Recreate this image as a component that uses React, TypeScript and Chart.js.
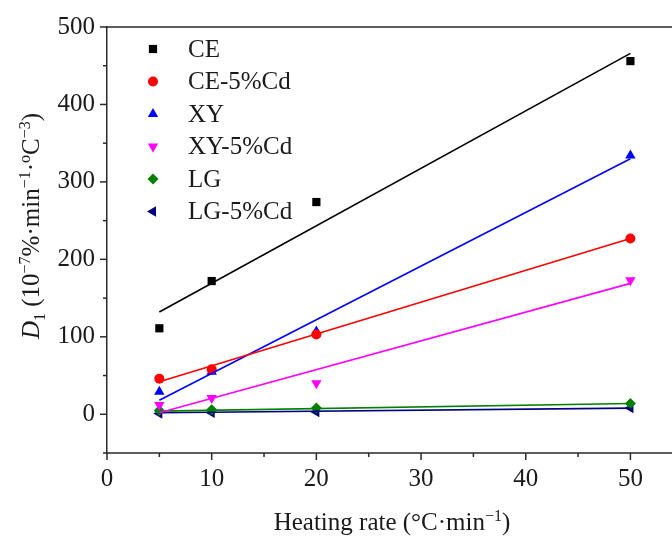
import React, { useEffect, useRef } from 'react';
import { Chart, registerables } from 'chart.js';
import { drawPoint } from 'chart.js/helpers';

Chart.register(...registerables);

// ---- data ----
const heatingRates = [5, 10, 20, 50];
const seriesNames = ['CE', 'CE-5%Cd', 'XY', 'XY-5%Cd', 'LG', 'LG-5%Cd'];
const ceValues = [111, 172, 274, 456];
const ce5Values = [46, 58, 103, 227];
const xyValues = [29, 55, 107, 334];
const xy5Values = [12, 21, 40, 173];
const lgValues = [5, 6, 8, 14];
const lg5Values = [1, 2, 3, 8];

// fitted straight lines, endpoints
const fitRates = [5, 50];
const ceFit = [132, 466];
const ce5Fit = [42, 227];
const xyFit = [18, 330];
const xy5Fit = [2, 169];
const lgFit = [4, 14];
const lg5Fit = [2, 8];

const xTickValues = [0, 10, 20, 30, 40, 50];
const yTickValues = [0, 100, 200, 300, 400, 500];

// ---- styles ----
const FONT = "'Liberation Serif', 'Times New Roman', serif";
const TEXT = '#1a1a1a';
const AXIS = '#2a2a2a';
const colors = ['#000000', '#ff0000', '#0000ff', '#ff00ff', '#008000', '#000080'];
const pointStyles = ['rect', 'circle', 'triangle', 'triangle', 'rectRot', 'triangle'];
const rotations = [0, 0, 0, 180, 0, -90];
const radii = [5.8, 5, 6, 6, 5.5, 6];

const seriesValues = [ceValues, ce5Values, xyValues, xy5Values, lgValues, lg5Values];
const fitValues = [ceFit, ce5Fit, xyFit, xy5Fit, lgFit, lg5Fit];

type Seg = { t: string; k?: 'i' | 'sub' | 'sup' };

function drawRich(ctx: CanvasRenderingContext2D, segs: Seg[], cx: number, baseY: number, size: number) {
  const small = Math.round(size * 0.64);
  const fontOf = (s: Seg) =>
    s.k === 'i' ? `italic ${size}px ${FONT}` : s.k === 'sub' || s.k === 'sup' ? `${small}px ${FONT}` : `${size}px ${FONT}`;
  let total = 0;
  const widths = segs.map((s) => {
    ctx.font = fontOf(s);
    const w = ctx.measureText(s.t).width;
    total += w;
    return w;
  });
  let x = cx - total / 2;
  ctx.textAlign = 'left';
  ctx.textBaseline = 'alphabetic';
  segs.forEach((s, i) => {
    ctx.font = fontOf(s);
    let y = baseY;
    if (s.k === 'sub') y += size * 0.22;
    if (s.k === 'sup') y -= size * 0.38;
    ctx.fillText(s.t, x, y);
    x += widths[i];
  });
}

const decorPlugin = {
  id: 'decor',
  afterDraw(chart: any) {
    const { ctx, chartArea, scales } = chart;
    const xs = scales.x;
    const ys = scales.y;
    const xLast = xTickValues[xTickValues.length - 1];
    ctx.save();
    ctx.strokeStyle = AXIS;
    ctx.lineWidth = 1.5;
    ctx.lineCap = 'butt';
    // top frame line and bottom axis line, running to the canvas edge
    ctx.beginPath();
    ctx.moveTo(chartArea.left, chartArea.top);
    ctx.lineTo(chart.width, chartArea.top);
    ctx.moveTo(chartArea.left - 0.75, chartArea.bottom);
    ctx.lineTo(chart.width, chartArea.bottom);
    ctx.stroke();
    // x ticks (major + minor)
    const xStep = xTickValues[1] - xTickValues[0];
    xTickValues.forEach((v) => {
      [v, v + xStep / 2].forEach((tv, j) => {
        if (tv > xLast) return;
        const px = xs.getPixelForValue(tv);
        const len = j === 0 ? 7 : 4;
        ctx.beginPath();
        ctx.moveTo(px, chartArea.bottom);
        ctx.lineTo(px, chartArea.bottom + len);
        ctx.stroke();
      });
    });
    // y ticks (major + minor)
    const yStep = yTickValues[1] - yTickValues[0];
    [yTickValues[0] - yStep, ...yTickValues].forEach((v) => {
      [v, v + yStep / 2].forEach((tv, j) => {
        if (tv < ys.min || tv > ys.max) return;
        const py = ys.getPixelForValue(tv);
        const len = j === 0 ? 7 : 4;
        ctx.beginPath();
        ctx.moveTo(chartArea.left - len, py);
        ctx.lineTo(chartArea.left, py);
        ctx.stroke();
      });
    });

    // legend
    seriesNames.forEach((name, i) => {
      const y = chartArea.top + 22 + i * 32.5;
      ctx.fillStyle = colors[i];
      drawPoint(ctx, { pointStyle: pointStyles[i], rotation: rotations[i], radius: radii[i], borderWidth: 0 } as any, chartArea.left + 46, y);
      ctx.fillStyle = TEXT;
      ctx.font = `25px ${FONT}`;
      ctx.textAlign = 'left';
      ctx.textBaseline = 'middle';
      ctx.fillText(name, chartArea.left + 81, y + 1);
    });

    // x title
    ctx.fillStyle = TEXT;
    drawRich(ctx, [{ t: 'Heating rate (°C·min' }, { t: '−1', k: 'sup' }, { t: ')' }], 392, 530, 25);

    // y title
    ctx.save();
    ctx.translate(39, 226);
    ctx.rotate(-Math.PI / 2);
    drawRich(
      ctx,
      [
        { t: 'D', k: 'i' },
        { t: '1', k: 'sub' },
        { t: ' (10' },
        { t: '−7', k: 'sup' },
        { t: '%·min' },
        { t: '−1', k: 'sup' },
        { t: '·' },
        { t: 'o', k: 'sup' },
        { t: 'C' },
        { t: '−3', k: 'sup' },
        { t: ')' },
      ],
      0,
      0,
      25
    );
    ctx.restore();
    ctx.restore();
  },
};

export default function App() {
  const canvasRef = useRef<HTMLCanvasElement | null>(null);

  useEffect(() => {
    if (!canvasRef.current) return;
    const datasets: any[] = [];
    seriesNames.forEach((name, i) => {
      datasets.push({
        label: name,
        data: heatingRates.map((x, k) => ({ x, y: seriesValues[i][k] })),
        showLine: false,
        pointStyle: pointStyles[i],
        rotation: rotations[i],
        pointRadius: radii[i],
        pointBorderWidth: 0,
        backgroundColor: colors[i],
        borderColor: colors[i],
        order: 1,
      });
    });
    seriesNames.forEach((name, i) => {
      datasets.push({
        label: name + ' fit',
        data: fitRates.map((x, k) => ({ x, y: fitValues[i][k] })),
        showLine: true,
        pointRadius: 0,
        borderWidth: 1.6,
        borderColor: colors[i],
        backgroundColor: colors[i],
        fill: false,
        order: 0,
      });
    });

    const chart = new Chart(canvasRef.current, {
      type: 'scatter',
      data: { datasets },
      options: {
        animation: false,
        responsive: false,
        devicePixelRatio: 1,
        layout: { padding: { left: 0, top: 25, right: 0, bottom: 0 } },
        plugins: { legend: { display: false }, tooltip: { enabled: false }, title: { display: false } },
        scales: {
          x: {
            type: 'linear',
            min: 0,
            max: 53.4,
            grid: { display: false, drawTicks: false },
            border: { display: false },
            ticks: {
              stepSize: 10,
              includeBounds: false,
              padding: 11,
              maxRotation: 0,
              color: TEXT,
              font: { family: FONT, size: 25 },
              callback: (v: any) => (xTickValues.includes(v) ? String(v) : ''),
            },
            afterFit: (s: any) => {
              s.height = 84;
            },
          },
          y: {
            type: 'linear',
            min: -50,
            max: 500,
            grid: { display: false, drawTicks: false },
            border: { display: true, color: AXIS, width: 1.5 },
            ticks: {
              stepSize: 100,
              includeBounds: false,
              padding: 12,
              color: TEXT,
              font: { family: FONT, size: 25 },
              callback: (v: any) => (yTickValues.includes(v) ? String(v) : ''),
            },
            afterFit: (s: any) => {
              s.width = 107;
            },
          },
        },
      },
      plugins: [decorPlugin],
    });
    return () => chart.destroy();
  }, []);

  return (
    <div style={{ position: 'absolute', left: 0, top: 0, width: 672, height: 537, background: '#fff' }}>
      <canvas ref={canvasRef} width={672} height={537} style={{ display: 'block' }} />
    </div>
  );
}
